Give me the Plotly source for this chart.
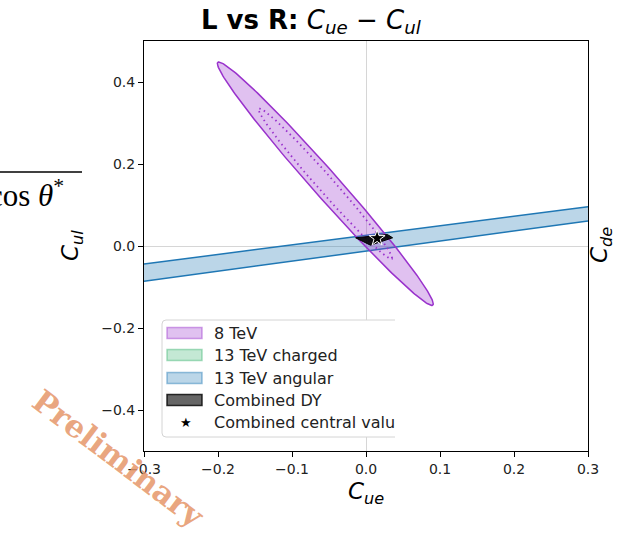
import numpy as np
import plotly.graph_objects as go

# Axis ranges and ticks
x_range = [-0.3, 0.3]
y_range = [-0.5, 0.5]
x_ticks = [-0.3, -0.2, -0.1, 0.0, 0.1, 0.2, 0.3]
y_ticks = [-0.4, -0.2, 0.0, 0.2, 0.4]

# 8 TeV fit: central values, 1-sigma uncertainties and correlation
fit8_center = [-0.055, 0.152]
fit8_sigma = [0.0596, 0.1213]
fit8_rho = -0.987

# Delta-chi2 for 68% / 95% coverage with 2 parameters
chi2_68 = 2.30
chi2_95 = 5.99

# 13 TeV angular band: edges at the axis limits
ang_x = [-0.3, 0.3]
ang_upper = [-0.044, 0.096]
ang_lower = [-0.086, 0.061]

# Combined DY allowed region
comb_x = [-0.014, 0.029, 0.036, 0.006, -0.014]
comb_y = [0.020, 0.028, 0.020, 0.002, 0.020]

# Combined central value
central_x = [0.015]
central_y = [0.019]

legend_labels = ["8 TeV", "13 TeV charged", "13 TeV angular", "Combined DY", "Combined central valu"]

PURPLE = "#9932CC"
PURPLE_FILL = "rgba(153,50,204,0.3)"
GREEN = "#3CB371"
GREEN_FILL = "rgba(60,179,113,0.3)"
BLUE = "#1f77b4"
BLUE_FILL = "rgba(31,119,180,0.3)"
FONT = "DejaVu Sans"


def ellipse(center, sigma, rho, chi2, n=300):
    sx, sy = sigma
    cov = np.array([[sx * sx, rho * sx * sy], [rho * sx * sy, sy * sy]])
    L = np.linalg.cholesky(cov)
    t = np.linspace(0, 2 * np.pi, n)
    pts = np.sqrt(chi2) * (L @ np.vstack([np.cos(t), np.sin(t)]))
    return center[0] + pts[0], center[1] + pts[1]


fig = go.Figure()

# 13 TeV angular band
fig.add_trace(go.Scatter(
    x=ang_x + ang_x[::-1], y=ang_upper + ang_lower[::-1],
    fill="toself", fillcolor=BLUE_FILL, line=dict(width=0),
    mode="lines", hoverinfo="skip", showlegend=False))
for edge in (ang_upper, ang_lower):
    fig.add_trace(go.Scatter(x=ang_x, y=edge, mode="lines",
                             line=dict(color=BLUE, width=1.5),
                             hoverinfo="skip", showlegend=False))

# 8 TeV ellipses (95% filled, 68% dotted)
ex, ey = ellipse(fit8_center, fit8_sigma, fit8_rho, chi2_95)
fig.add_trace(go.Scatter(x=ex, y=ey, fill="toself", fillcolor=PURPLE_FILL,
                         mode="lines", line=dict(color=PURPLE, width=1.5),
                         hoverinfo="skip", showlegend=False))
ix, iy = ellipse(fit8_center, fit8_sigma, fit8_rho, chi2_68)
fig.add_trace(go.Scatter(x=ix, y=iy, mode="lines",
                         line=dict(color=PURPLE, width=1.8, dash="1.5px,3.5px"),
                         hoverinfo="skip", showlegend=False))

# Combined DY region
fig.add_trace(go.Scatter(x=comb_x, y=comb_y, fill="toself",
                         fillcolor="rgba(0,0,0,0.9)", mode="lines",
                         line=dict(color="black", width=1),
                         hoverinfo="skip", showlegend=False))

# Combined central value
fig.add_trace(go.Scatter(x=central_x, y=central_y, mode="markers",
                         marker=dict(symbol="star", size=12, color="black",
                                     line=dict(color="white", width=1)),
                         hoverinfo="skip", showlegend=False))

# Plot-area geometry in pixels
W, H = 619, 537
L_PX, R_PX, T_PX, B_PX = 144, 588, 41, 451


def px(x):
    return (x - L_PX) / (R_PX - L_PX)


def py(y):
    return (B_PX - y) / (B_PX - T_PX)


shapes = []
annotations = []

# Legend frame (open on the right side)
lx0, lx1, ly0, ly1, r = 162, 395, 320, 437, 4
path = (f"M {px(lx1)},{py(ly0)} L {px(lx0 + r)},{py(ly0)} "
        f"Q {px(lx0)},{py(ly0)} {px(lx0)},{py(ly0 + r)} "
        f"L {px(lx0)},{py(ly1 - r)} "
        f"Q {px(lx0)},{py(ly1)} {px(lx0 + r)},{py(ly1)} "
        f"L {px(lx1)},{py(ly1)}")
shapes.append(dict(type="rect", xref="paper", yref="paper",
                   x0=px(lx0), x1=px(lx1), y0=py(ly1), y1=py(ly0),
                   fillcolor="white", line=dict(width=0), layer="above"))
shapes.append(dict(type="path", xref="paper", yref="paper", path=path,
                   fillcolor="rgba(0,0,0,0)",
                   line=dict(color="#d4d4d4", width=1), layer="above"))

swatches = [(PURPLE_FILL, "rgba(153,50,204,0.45)"),
            (GREEN_FILL, "rgba(60,179,113,0.45)"),
            (BLUE_FILL, "rgba(31,119,180,0.45)"),
            ("rgba(0,0,0,0.6)", "rgba(0,0,0,0.8)")]
row_y = [333, 355, 378, 400, 422]
for (fc, lc), yy in zip(swatches, row_y):
    shapes.append(dict(type="rect", xref="paper", yref="paper",
                       x0=px(167), x1=px(202), y0=py(yy + 5.5), y1=py(yy - 5.5),
                       fillcolor=fc, line=dict(color=lc, width=1.5), layer="above"))
for label, yy in zip(legend_labels, row_y):
    annotations.append(dict(x=px(212), y=py(yy), xref="paper", yref="paper",
                            text=label, showarrow=False, xanchor="left",
                            yanchor="middle",
                            font=dict(family=FONT, size=16, color="#222")))
annotations.append(dict(x=px(186), y=py(row_y[-1]), xref="paper", yref="paper",
                        text="★", showarrow=False, xanchor="center", yanchor="middle",
                        font=dict(family=FONT, size=13, color="black")))

# Title
annotations.append(dict(
    x=px(311), y=py(22), xref="paper", yref="paper", showarrow=False,
    xanchor="center", yanchor="middle",
    text="<b>L vs R:</b> <i>C</i><sub><i>ue</i></sub> − <i>C</i><sub><i>ul</i></sub>",
    font=dict(family=FONT, size=26, color="black")))

# Axis titles
annotations.append(dict(x=px(366), y=py(493), xref="paper", yref="paper",
                        showarrow=False, xanchor="center", yanchor="middle",
                        text="<i>C</i><sub><i>ue</i></sub>",
                        font=dict(family=FONT, size=23, color="black")))
annotations.append(dict(x=px(72), y=py(246), xref="paper", yref="paper",
                        showarrow=False, xanchor="center", yanchor="middle",
                        textangle=-90, text="<i>C</i><sub><i>ul</i></sub>",
                        font=dict(family=FONT, size=23, color="black")))
annotations.append(dict(x=px(601), y=py(245), xref="paper", yref="paper",
                        showarrow=False, xanchor="center", yanchor="middle",
                        textangle=-90, text="<i>C</i><sub><i>de</i></sub>",
                        font=dict(family=FONT, size=23, color="black")))

# Fraction denominator on the left edge
annotations.append(dict(x=px(-13), y=py(193), xref="paper", yref="paper",
                        showarrow=False, xanchor="left", yanchor="middle",
                        text="cos <i>θ</i><sup>*</sup>",
                        font=dict(family="Liberation Serif", size=31, color="black")))
shapes.append(dict(type="line", xref="paper", yref="paper",
                   x0=px(0), x1=px(82), y0=py(172), y1=py(172),
                   line=dict(color="black", width=1.5)))

# Watermark
annotations.append(dict(x=px(118), y=py(458), xref="paper", yref="paper",
                        showarrow=False, xanchor="center", yanchor="middle",
                        textangle=37, text="<b>Preliminary</b>",
                        font=dict(family="DejaVu Serif", size=31,
                                  color="rgba(229,150,105,0.85)")))

axis_common = dict(showgrid=False, ticks="outside", ticklen=5, tickwidth=1,
                   tickcolor="black", showline=True, linecolor="black",
                   linewidth=1, mirror=True, zeroline=True,
                   zerolinecolor="#d6d6d6", zerolinewidth=1,
                   tickfont=dict(family=FONT, size=14, color="#222"))

fig.update_layout(
    width=W, height=H,
    margin=dict(l=L_PX, r=W - R_PX, t=T_PX, b=H - B_PX),
    paper_bgcolor="white", plot_bgcolor="white",
    showlegend=False,
    xaxis=dict(range=x_range, tickvals=x_ticks, tickformat=".1f", **axis_common),
    yaxis=dict(range=y_range, tickvals=y_ticks, tickformat=".1f", **axis_common),
    shapes=shapes, annotations=annotations,
)

fig.write_html("out.html")
